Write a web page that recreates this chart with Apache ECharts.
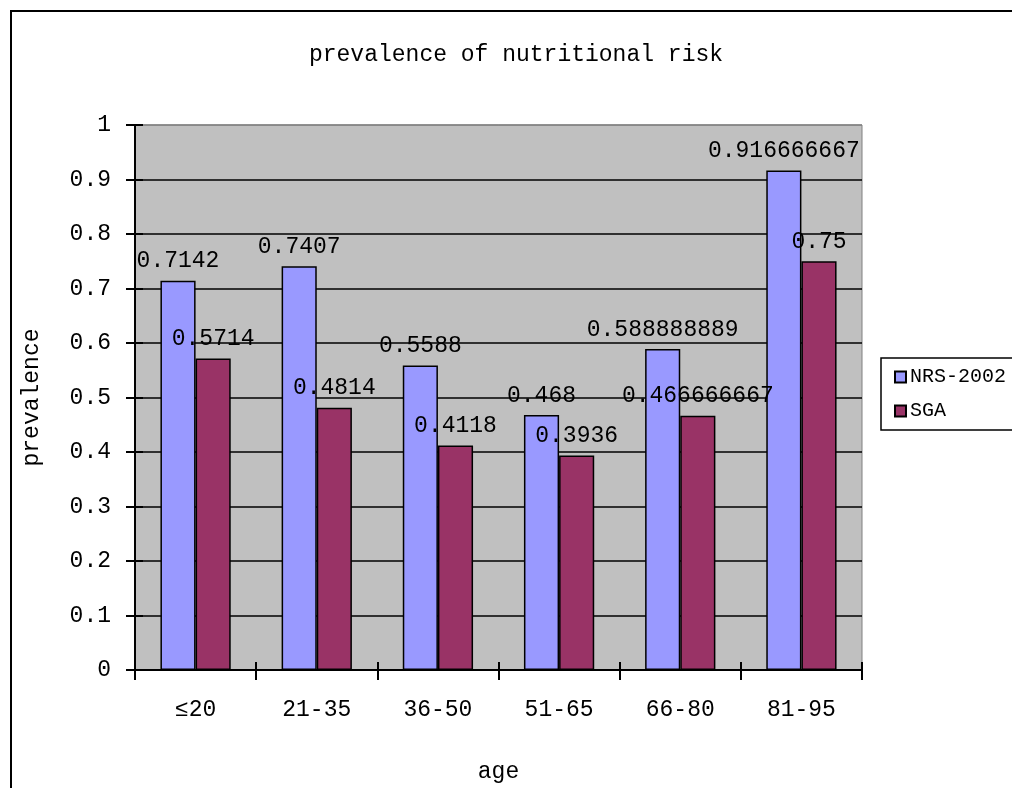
<!DOCTYPE html>
<html>
<head>
<meta charset="utf-8">
<script src="https://cdn.jsdelivr.net/npm/echarts@6/dist/echarts.min.js"></script>
<style>
  html, body { margin: 0; padding: 0; background: #fff; }
  #chart { width: 1012px; height: 788px; }
</style>
</head>
<body>
<div id="chart"></div>
<script>
// Age groups and prevalence of nutritional risk by screening tool
const ageGroups = ['≤20', '21-35', '36-50', '51-65', '66-80', '81-95'];
const nrs2002 = [0.7142, 0.7407, 0.5588, 0.468, 0.588888889, 0.916666667];
const sga = [0.5714, 0.4814, 0.4118, 0.3936, 0.466666667, 0.75];
const seriesNames = ['NRS-2002', 'SGA'];

const FONT = 'Liberation Mono';
const chart = echarts.init(document.getElementById('chart'));

// black grid lines, with the top edge of the plot area left gray
const gridLineColors = [];
for (let i = 0; i < 10; i++) gridLineColors.push('#000');
gridLineColors.push('#808080');

const barLabel = {
  show: true,
  position: 'top',
  distance: 8,
  color: '#000',
  fontFamily: FONT,
  fontSize: 23,
  formatter: p => String(p.value)
};

chart.setOption({
  animation: false,
  backgroundColor: '#fff',
  textStyle: { fontFamily: FONT, color: '#000' },
  title: {
    text: 'prevalence of nutritional risk',
    left: 511,
    textAlign: 'center',
    top: 38,
    textStyle: { fontFamily: FONT, fontSize: 23, fontWeight: 'normal', color: '#000' }
  },
  graphic: [{
    type: 'rect',
    shape: { x: 11, y: 11, width: 1010, height: 790 },
    style: { fill: 'none', stroke: '#000', lineWidth: 2 },
    silent: true
  }],
  legend: {
    orient: 'vertical',
    left: 881,
    top: 358,
    padding: [9, 30, 9, 13],
    itemGap: 14,
    itemWidth: 11,
    itemHeight: 11,
    icon: 'rect',
    backgroundColor: '#fff',
    borderColor: '#000',
    borderWidth: 1.5,
    textStyle: { fontFamily: FONT, fontSize: 20, color: '#000', padding: [0, 0, 0, -1] },
    data: seriesNames
  },
  grid: {
    left: 135, top: 125, width: 727, height: 545,
    show: true,
    backgroundColor: '#c0c0c0',
    borderColor: '#808080',
    borderWidth: 1
  },
  xAxis: [{
    type: 'category',
    data: ageGroups,
    position: 'bottom',
    name: 'age',
    nameLocation: 'middle',
    nameGap: 90,
    nameTextStyle: { fontFamily: FONT, fontSize: 23, color: '#000' },
    axisLine: { lineStyle: { color: '#000', width: 2 } },
    axisTick: { show: true, inside: false, length: 10, lineStyle: { color: '#000', width: 2 } },
    axisLabel: { margin: 28, fontFamily: FONT, fontSize: 23, color: '#000' },
    splitLine: { show: false }
  }, {
    type: 'category',
    data: ageGroups,
    position: 'bottom',
    axisLine: { show: false },
    axisTick: { show: true, inside: true, length: 8, lineStyle: { color: '#000', width: 2 } },
    axisLabel: { show: false },
    splitLine: { show: false }
  }],
  yAxis: [{
    type: 'value',
    min: 0,
    max: 1,
    interval: 0.1,
    position: 'left',
    name: 'prevalence',
    nameLocation: 'middle',
    nameGap: 92,
    nameRotate: 90,
    nameTextStyle: { fontFamily: FONT, fontSize: 23, color: '#000' },
    axisLine: { show: true, lineStyle: { color: '#000', width: 2 } },
    axisTick: { show: true, inside: false, length: 9, lineStyle: { color: '#000', width: 2 } },
    axisLabel: { margin: 24, fontFamily: FONT, fontSize: 23, color: '#000',
                 formatter: v => String(Math.round(v * 10) / 10) },
    splitLine: { show: true, lineStyle: { color: gridLineColors, width: 1.5 } }
  }, {
    type: 'value',
    min: 0,
    max: 1,
    interval: 0.1,
    position: 'left',
    axisLine: { show: false },
    axisTick: { show: true, inside: true, length: 8, lineStyle: { color: '#000', width: 2 } },
    axisLabel: { show: false },
    splitLine: { show: false }
  }],
  series: [{
    name: seriesNames[0],
    type: 'bar',
    data: nrs2002,
    barGap: '0%',
    barCategoryGap: '42%',
    itemStyle: { color: '#9999ff', borderColor: '#000', borderWidth: 1.5 },
    label: barLabel
  }, {
    name: seriesNames[1],
    type: 'bar',
    data: sga,
    barGap: '0%',
    barCategoryGap: '42%',
    itemStyle: { color: '#993366', borderColor: '#000', borderWidth: 1.5 },
    label: barLabel
  }]
});
</script>
</body>
</html>
